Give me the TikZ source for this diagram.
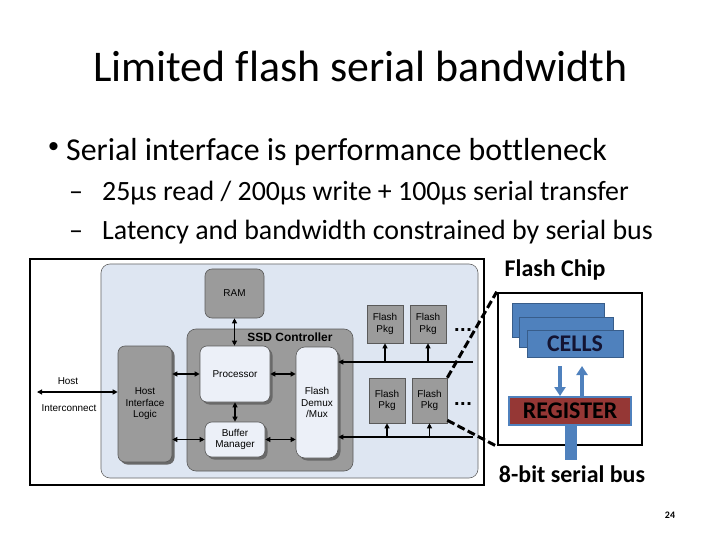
\documentclass[tikz,border=0pt]{standalone}
\usepackage{fontspec}
\setmainfont{Carlito}[Ligatures=NoCommon]
\newfontfamily\arialf{Liberation Sans}
\usetikzlibrary{arrows.meta,shadows}
\definecolor{ssdbg}{RGB}{222,230,242}
\definecolor{boxgray}{RGB}{155,155,155}
\definecolor{lightfill}{RGB}{236,240,248}
\definecolor{shadowgray}{RGB}{105,105,105}
\definecolor{edgegray}{RGB}{90,90,90}
\definecolor{cellblue}{RGB}{79,129,189}
\definecolor{cellborder}{RGB}{56,93,138}
\definecolor{regred}{RGB}{149,55,53}
\definecolor{celltext}{RGB}{20,20,50}
\begin{document}
\begin{tikzpicture}[x=1bp,y=-1bp,
  slidetext/.style={inner sep=0pt, anchor=base west},
  dfont/.style={font=\arialf\fontsize{10}{11.5}\selectfont, align=center},
  graybox/.style={dfont, draw=edgegray, fill=boxgray, rounded corners=7bp, inner sep=0pt, line width=0.6bp},
  shadowbox/.style={graybox, drop shadow={shadow xshift=2.5bp, shadow yshift=-2.5bp, fill=shadowgray, opacity=1}},
  litebox/.style={shadowbox, fill=lightfill},
  pkgbox/.style={dfont, draw=edgegray, fill=boxgray, inner sep=0pt, line width=0.6bp},
  dbl/.style={{Triangle[width=5bp,length=5bp]}-{Triangle[width=5bp,length=5bp]}, line width=1.1bp},
  onearrow/.style={-{Triangle[width=5bp,length=5bp]}, line width=1.1bp},
  bigdash/.style={line width=3bp, dash pattern=on 8bp off 3.5bp},
  cellbox/.style={draw=cellborder, fill=cellblue, line width=1bp, inner sep=0pt},
  chiptext/.style={font=\fontsize{24}{28}\selectfont\bfseries},
  bluearrow/.style={draw=cellblue, line width=3.5bp, -{Triangle[width=11bp,length=9bp]}},
  dotsnode/.style={font=\arialf\bfseries\fontsize{20}{20}\selectfont, inner sep=0pt}
]
\useasboundingbox (0,0) rectangle (720,540);
\fill[white] (0,0) rectangle (720,540);

% ---- text ----
\node[slidetext, font=\fontsize{44}{50}\selectfont] (title) at (93,82) {Limited flash serial bandwidth};
\node[inner sep=0pt, font=\arialf\fontsize{30}{30}\selectfont] (b1mark) at (53.5,150) {•};
\node[slidetext, font=\fontsize{32}{38}\selectfont] (b1) at (66,161) {Serial interface is performance bottleneck};
\node[slidetext, font=\fontsize{28}{34}\selectfont] (b2mark) at (69,201) {–};
\node[slidetext, font=\fontsize{28}{34}\selectfont] (b2) at (102,201) {25µs read / 200µs write + 100µs serial transfer};
\node[slidetext, font=\fontsize{28}{34}\selectfont] (b3mark) at (69,240) {–};
\node[slidetext, font=\fontsize{28}{34}\selectfont] (b3) at (102,240) {Latency and bandwidth constrained by serial bus};

% ---- SSD diagram ----
\node[draw=black, fill=white, line width=1.2bp, minimum width=454bp, minimum height=226bp, inner sep=0pt] (frame) at (257,372) {};
\node[draw=gray!80!black, fill=ssdbg, rounded corners=9bp, line width=0.6bp, minimum width=377bp, minimum height=214bp, inner sep=0pt] (ssd) at (289.5,371) {};
\node[graybox, rounded corners=9bp, minimum width=166bp, minimum height=142bp] (ctrl) at (270,400) {};
\node[font=\arialf\bfseries\fontsize{12}{14}\selectfont, inner sep=0pt] (ctrllabel) at (290,337) {SSD Controller};
\node[graybox, minimum width=59bp, minimum height=49bp] (ram) at (234.5,293.5) {RAM};
\node[shadowbox, minimum width=54bp, minimum height=116bp] (hil) at (145,404) {Host\\Interface\\Logic};
\node[litebox, minimum width=70bp, minimum height=56bp] (proc) at (235,374) {Processor};
\node[litebox, minimum width=60bp, minimum height=35bp] (buf) at (235,439.5) {Buffer\\Manager};
\node[litebox, rounded corners=9bp, minimum width=42bp, minimum height=111bp] (demux) at (317,402.5) {Flash\\Demux\\/Mux};
\node[pkgbox, minimum width=36bp, minimum height=38bp] (pkg1) at (385,324) {Flash\\Pkg};
\node[pkgbox, minimum width=36bp, minimum height=38bp] (pkg2) at (428,324) {Flash\\Pkg};
\node[pkgbox, minimum width=36bp, minimum height=45bp] (pkg3) at (387,400.5) {Flash\\Pkg};
\node[pkgbox, minimum width=35bp, minimum height=45bp] (pkg4) at (429.5,400.5) {Flash\\Pkg};
\node[dotsnode] (dots1) at (463,330) {.\kern0.5bp.\kern0.5bp.};
\node[dotsnode] (dots2) at (463,404) {.\kern0.5bp.\kern0.5bp.};
\node[dfont, inner sep=0pt] (hostlbl) at (68,381) {Host};
\node[dfont, inner sep=0pt] (interlbl) at (69,408) {Interconnect};

\coordinate (hostL) at (37,392);
\coordinate (busT) at (473,362);
\coordinate (busB) at (473,437);
\draw[dbl] (hostL) -- (hostL -| hil.west);
\draw[dbl] (proc.west) -- (proc.west -| hil.east);
\draw[dbl] (buf.west) -- (buf.west -| hil.east);
\draw[dbl] (ram.south) -- (ram.south |- proc.north);
\draw[dbl] (proc.south) -- (buf.north);
\draw[dbl] (proc.east) -- (proc.east -| demux.west);
\draw[dbl] (buf.east) -- (buf.east -| demux.west);
\draw[onearrow] (busT) -- (busT -| demux.east);
\draw[onearrow] (busB) -- (busB -| demux.east);
\draw[onearrow] (pkg1.south |- busT) -- (pkg1.south);
\draw[onearrow] (pkg2.south |- busT) -- (pkg2.south);
\draw[onearrow] (pkg3.south |- busB) -- (pkg3.south);
\draw[onearrow] (pkg4.south |- busB) -- (pkg4.south);

% ---- flash chip ----
\node[chiptext, inner sep=0pt] (chiplbl) at (555,270) {Flash Chip};
\node[draw=black, line width=2.5bp, minimum width=144bp, minimum height=152bp, inner sep=0pt] (chip) at (570,369) {};
\draw[bigdash] (pkg4.north east) -- (chip.north west);
\draw[bigdash] ([yshift=3bp]pkg4.south east) -- (chip.south west);
\node[cellbox, minimum width=92bp, minimum height=34bp] (cellA) at (558,320) {};
\node[cellbox, minimum width=94bp, minimum height=30bp] (cellB) at (566,332) {};
\node[cellbox, minimum width=96bp, minimum height=27bp, chiptext, text=celltext] (cellC) at (575,343.5) {CELLS};
\node[draw=cellblue, fill=regred, line width=2bp, minimum width=122bp, minimum height=28bp, inner sep=0pt, chiptext] (reg) at (570,411) {REGISTER};
\coordinate (dnTop) at (560,366);
\coordinate (upTop) at (582,366);
\draw[bluearrow] (dnTop) -- (dnTop |- reg.north);
\draw[bluearrow] (upTop |- reg.north) -- (upTop);
\coordinate (busEnd) at (571,460);
\draw[cellblue, line width=12bp] (busEnd |- reg.south) -- (busEnd);
\node[chiptext, inner sep=0pt] (buslbl) at (572,474) {8-bit serial bus};
\node[font=\fontsize{10}{12}\selectfont\bfseries, inner sep=0pt] (pagenum) at (670,515) {24};
\end{tikzpicture}
\end{document}
